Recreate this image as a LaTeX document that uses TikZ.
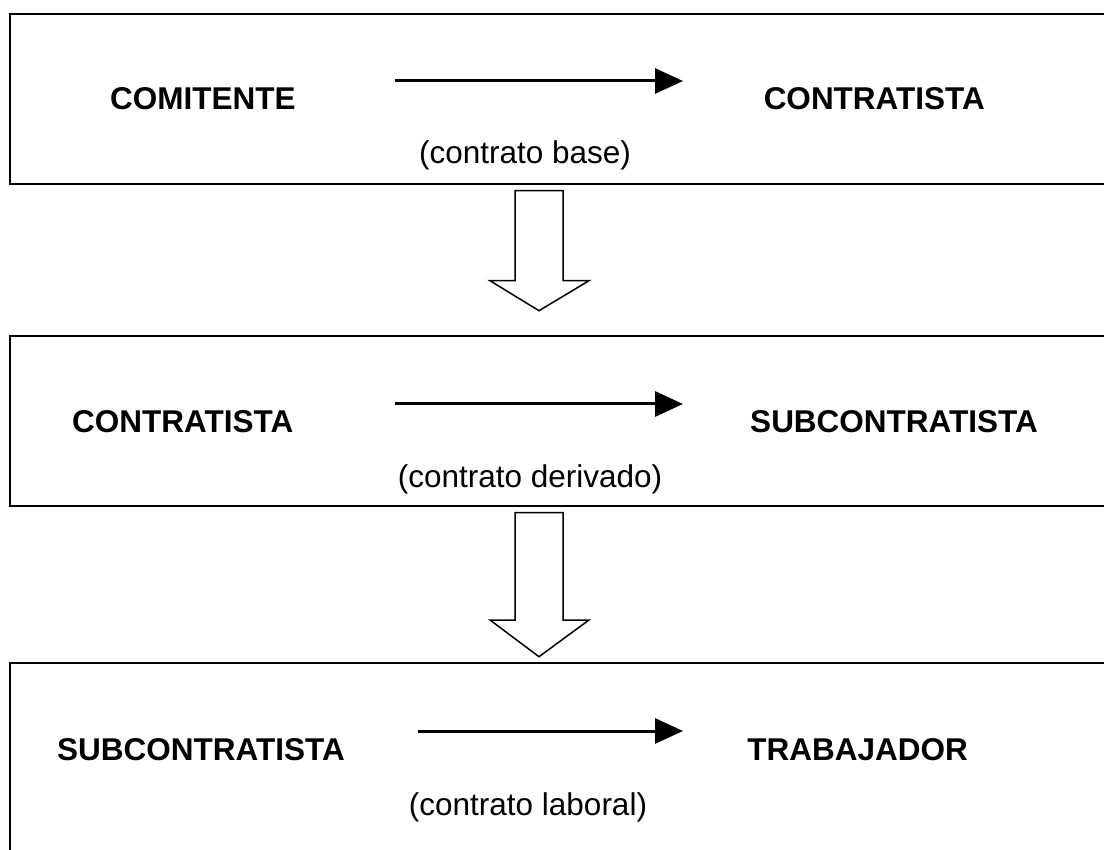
\documentclass[tikz,border=0pt]{standalone}
\usepackage{fontspec}
\setmainfont{Liberation Sans}
\usetikzlibrary{arrows.meta}
\begin{document}
\begin{tikzpicture}[x=1pt,y=-1pt,
  frame/.style={draw=black,line width=2.2pt},
  party/.style={font=\fontsize{31.5}{36}\selectfont\bfseries,inner sep=0pt},
  note/.style={font=\fontsize{31.5}{36}\selectfont,inner sep=0pt},
  flow/.style={line width=3pt,-{Triangle[length=28pt,width=25pt]}},
  blockarrow/.style={draw=black,line width=1.5pt,fill=white,line join=miter}]
\useasboundingbox (0,0) rectangle (1104,850);
\clip (0,0) rectangle (1104,850);
% box 1
\draw[frame] (10,14) rectangle (1120,184);
\node[party,anchor=base west] (comitente) at (110,110) {COMITENTE};
\node[party,anchor=base east] (contratistaA) at (985,110) {CONTRATISTA};
\node[note,anchor=base] (base) at (525,164) {(contrato base)};
\coordinate (a1s) at (395,81);
\coordinate (a1e) at (683,81);
\draw[flow] (a1s) -- (a1e);
% block arrow 1
\draw[blockarrow] (515,190.7) -- (563,190.7) -- (563,280.7) -- (589,280.7) -- (539,310.7) -- (490,280.7) -- (515,280.7) -- cycle;
% box 2
\draw[frame] (10,336) rectangle (1120,506);
\node[party,anchor=base west] (contratistaB) at (72,432) {CONTRATISTA};
\node[party,anchor=base east] (subB) at (1038,432) {SUBCONTRATISTA};
\node[note,anchor=base] (derivado) at (530,487) {(contrato derivado)};
\coordinate (a2s) at (395,404);
\coordinate (a2e) at (683,404);
\draw[flow] (a2s) -- (a2e);
% block arrow 2
\draw[blockarrow] (515,512.7) -- (563,512.7) -- (563,620) -- (589,620) -- (539,656.7) -- (490,620) -- (515,620) -- cycle;
% box 3
\draw[frame] (10,663) rectangle (1120,880);
\node[party,anchor=base west] (subC) at (57,760) {SUBCONTRATISTA};
\node[party,anchor=base east] (trabajador) at (968,760) {TRABAJADOR};
\node[note,anchor=base] (laboral) at (528,815) {(contrato laboral)};
\coordinate (a3s) at (418,731);
\coordinate (a3e) at (683,731);
\draw[flow] (a3s) -- (a3e);
\end{tikzpicture}
\end{document}
